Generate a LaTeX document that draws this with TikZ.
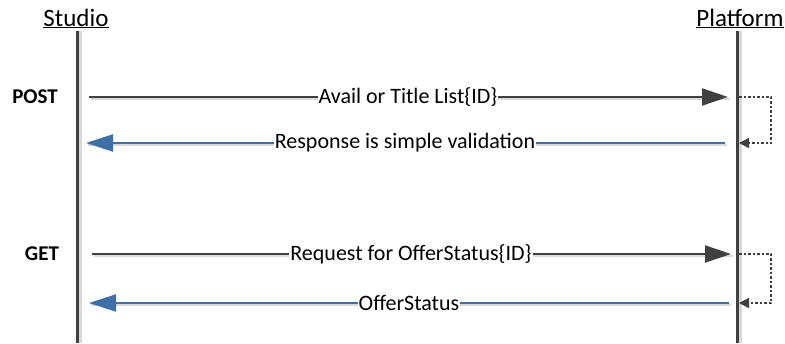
\documentclass[tikz,border=0pt]{standalone}
\usepackage{fontspec}
\setmainfont{Carlito}
\usetikzlibrary{arrows.meta}
\definecolor{dk}{HTML}{404040}
\definecolor{bl}{HTML}{3E6FA6}
\definecolor{sh}{HTML}{D9D9D9}
\begin{document}
\begin{tikzpicture}[x=1pt,y=-1pt,
  hdr/.style={font=\fontsize{25}{28}\selectfont, inner sep=0pt},
  verb/.style={font=\fontsize{21}{24}\selectfont\bfseries, inner sep=0pt},
  lbl/.style={font=\fontsize{22}{24}\selectfont, fill=white, inner xsep=1pt, inner ysep=0pt},
  life/.style={draw=dk, line width=3pt},
  lifesh/.style={draw=sh, line width=3pt},
  msg/.style={draw=dk, line width=2pt, -{Triangle[length=26pt,width=17pt]}},
  ret/.style={draw=bl, line width=2pt, -{Triangle[length=27pt,width=17pt]}},
  msgsh/.style={draw=sh, line width=2pt},
  self/.style={draw=dk, line width=1.3pt, dash pattern=on 2.5pt off 2pt, -{Triangle[length=10pt,width=10pt]}}
]
\useasboundingbox (0,0) rectangle (785,343);
% headers
\node[hdr, anchor=base] (studio) at (76,26) {\underline{Studio}};
\node[hdr, anchor=base] (platform) at (740,26) {\underline{Platform}};
% lifelines
\coordinate (sTop) at (77,31);
\coordinate (sBot) at (77,343);
\coordinate (pTop) at (737,31);
\coordinate (pBot) at (737,343);
\draw[lifesh] ([xshift=3pt]sTop) -- ([xshift=3pt]sBot);
\draw[lifesh] ([xshift=3pt]pTop) -- ([xshift=3pt]pBot);
\draw[life] (sTop) -- (sBot);
\draw[life] (pTop) -- (pBot);
% verbs
\node[verb] (post) at (35,97) {POST};
\node[verb] (get) at (42,254) {GET};
% endpoints
\coordinate (a1s) at (89,97);   \coordinate (a1e) at (728,97);
\coordinate (a2s) at (725,143); \coordinate (a2e) at (86,143);
\coordinate (a3s) at (92,254);  \coordinate (a3e) at (731,254);
\coordinate (a4s) at (729,303); \coordinate (a4e) at (89,303);
% shadows
\draw[msgsh] ([shift={(1.5,2)}]a1s) -- ([shift={(1.5,2)}]a1e);
\draw[msgsh] ([shift={(1.5,2)}]a2s) -- ([shift={(1.5,2)}]a2e);
\draw[msgsh] ([shift={(1.5,2)}]a3s) -- ([shift={(1.5,2)}]a3e);
\draw[msgsh] ([shift={(1.5,2)}]a4s) -- ([shift={(1.5,2)}]a4e);
% messages
\draw[msg] (a1s) -- (a1e);
\node[lbl] (l1) at (408,97) {Avail or Title List\{ID\}};
\draw[ret] (a2s) -- (a2e);
\node[lbl] (l2) at (405,143) {Response is simple validation};
\draw[msg] (a3s) -- (a3e);
\node[lbl] (l3) at (411,254) {Request for OfferStatus\{ID\}};
\draw[ret] (a4s) -- (a4e);
\node[lbl] (l4) at (409,303) {OfferStatus};
% self loops
\coordinate (s1a) at (739,97);  \coordinate (s1b) at (771,97);
\coordinate (s1c) at (771,143); \coordinate (s1d) at (739,143);
\draw[self] (s1a) -- (s1b) -- (s1c) -- (s1d);
\coordinate (s2a) at (739,254); \coordinate (s2b) at (771,254);
\coordinate (s2c) at (771,303); \coordinate (s2d) at (739,303);
\draw[self] (s2a) -- (s2b) -- (s2c) -- (s2d);
\end{tikzpicture}
\end{document}
